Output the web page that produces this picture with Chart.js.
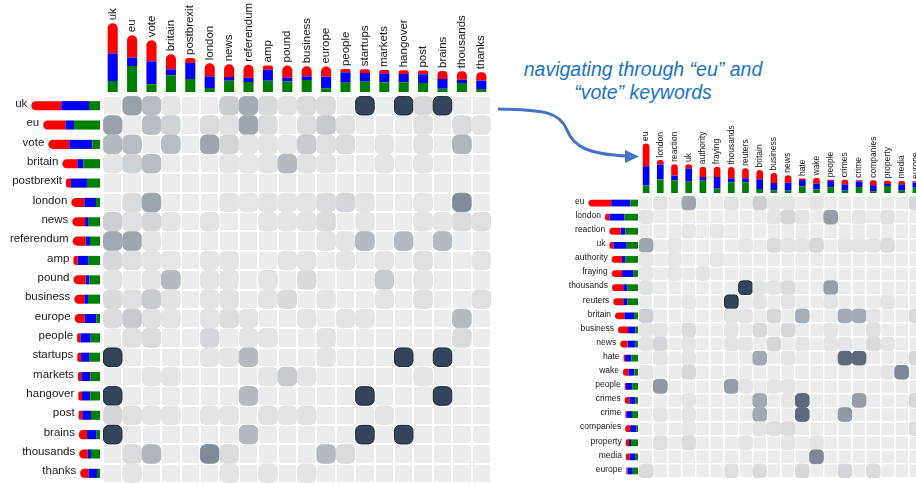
<!DOCTYPE html>
<html>
<head>
<meta charset="utf-8">
<script src="https://cdn.jsdelivr.net/npm/chart.js@4.4.0/dist/chart.umd.min.js"></script>
<style>
  html, body { margin: 0; padding: 0; background: #fff; width: 916px; height: 483px; overflow: hidden; }
  canvas, svg { position: absolute; }
  #note { position: absolute; left: 493px; top: 58px; width: 300px; text-align: center;
          font: italic 19.5px "Liberation Sans", Arial, sans-serif; color: #1a73c8; line-height: 23px; }
</style>
</head>
<body>
<svg width="916" height="483" style="left:0;top:0">
  <path d="M498,109 C545,110 560,112 567,130 C574,148 590,154 627,156" fill="none" stroke="#4673c4" stroke-width="3"/>
  <polygon points="639,156.5 625,150 625,163" fill="#4673c4"/>
</svg>
<div id="note">navigating through “eu” and<br>“vote” keywords</div>

<canvas id="colA" width="388" height="92" style="left:103px;top:0px"></canvas>
<canvas id="rowA" width="100" height="387" style="left:0px;top:96px"></canvas>
<canvas id="cellA" width="388" height="387" style="left:103px;top:96px"></canvas>

<canvas id="colB" width="284" height="80" style="left:639px;top:113px"></canvas>
<canvas id="rowB" width="108" height="282" style="left:530px;top:196px"></canvas>
<canvas id="cellB" width="284" height="282" style="left:639px;top:196px"></canvas>

<script>
// ---- left matrix: all keywords ----
const wordsA = ['uk', 'eu', 'vote', 'britain', 'postbrexit', 'london', 'news', 'referendum', 'amp', 'pound',
                'business', 'europe', 'people', 'startups', 'markets', 'hangover', 'post', 'brains', 'thousands', 'thanks'];
const redA   = [30, 22.3, 21, 15, 5, 13, 12.7, 13, 4.3, 12, 10, 10, 3.3, 3.7, 3.3, 3.7, 3.7, 8, 8.5, 8.3];
const blueA  = [27.7, 8.5, 23, 6, 16, 11.7, 3.7, 4.3, 11, 4, 3.7, 11.7, 10.3, 8.7, 9, 8.3, 8.7, 9.7, 3.3, 8.5];
const greenA = [11, 26, 7.7, 16.7, 13, 4, 11.3, 10, 11.3, 10.5, 12, 3.7, 9.3, 10.3, 9.7, 9.7, 9, 3.3, 9, 3];
const cellsA = [
  [0, .45, .28, .04, 0, 0, .19, .39, .11, .06, .1, .1, 0, 1, 0, 1, .12, 1, 0, 0],
  [.45, 0, .28, .15, 0, .1, .07, .42, .1, 0, .09, .2, .07, 0, 0, 0, .07, 0, .1, .05],
  [.3, .28, 0, .28, 0, .42, .14, .04, .05, .03, .2, .07, .1, 0, .04, 0, .06, 0, .32, 0],
  [.04, .15, .28, 0, 0, 0, .04, .03, .05, .3, .06, .05, 0, 0, .04, 0, .04, 0, 0, 0],
  [0, 0, 0, 0, 0, 0, 0, 0, 0, 0, 0, 0, 0, 0, 0, 0, 0, 0, 0, 0],
  [0, .1, .42, 0, 0, 0, .05, .03, .05, .05, .05, .1, .13, .05, 0, 0, .03, 0, .57, 0],
  [.18, .07, .13, .04, 0, .05, 0, 0, .04, .04, .06, .1, 0, .04, 0, 0, .05, .04, .1, .08],
  [.4, .42, .04, 0, 0, 0, 0, 0, 0, 0, 0, .05, .04, .3, 0, .3, 0, .3, 0, 0],
  [.12, .08, .05, .03, 0, .04, .04, 0, 0, .05, .05, 0, .04, 0, .04, 0, .07, 0, 0, .05],
  [.06, 0, .04, .3, 0, .04, .04, 0, .05, 0, .11, 0, 0, 0, .2, 0, .04, 0, 0, 0],
  [.11, .08, .2, .06, 0, .05, .06, 0, .05, .11, 0, .04, 0, 0, .05, 0, .07, 0, 0, .07],
  [.1, .2, .07, .05, 0, .05, .09, .05, 0, 0, .04, 0, .05, .04, 0, 0, 0, 0, .3, 0],
  [0, .07, .1, 0, 0, .13, 0, .04, .04, 0, 0, .05, 0, 0, 0, 0, 0, 0, .1, 0],
  [1, 0, 0, 0, 0, .04, .04, .3, 0, 0, 0, .04, 0, 0, 0, 1, 0, 1, 0, 0],
  [0, 0, .04, .04, 0, 0, 0, 0, .04, .2, .05, 0, 0, 0, 0, 0, .04, 0, 0, 0],
  [1, 0, 0, 0, 0, 0, 0, .3, 0, 0, 0, 0, 0, 1, 0, 0, 0, 1, 0, 0],
  [.13, .07, .05, .04, 0, .04, .05, 0, .06, .04, .06, 0, 0, 0, .04, 0, 0, 0, 0, 0],
  [1, 0, 0, 0, 0, 0, 0, .3, 0, 0, 0, 0, 0, 1, 0, 1, 0, 0, 0, 0],
  [0, .1, .32, 0, 0, .58, .1, 0, 0, 0, 0, .3, .1, 0, 0, 0, 0, 0, 0, 0],
  [0, .05, 0, 0, 0, 0, .04, 0, .05, 0, .05, 0, 0, 0, 0, 0, 0, 0, 0, 0]
];

// ---- right matrix: after navigating "eu" and "vote" ----
const wordsB = ['eu', 'london', 'reaction', 'uk', 'authority', 'fraying', 'thousands', 'reuters', 'britain', 'business',
                'news', 'hate', 'wake', 'people', 'crimes', 'crime', 'companies', 'property', 'media', 'europe'];
const redB   = [22.7, 4.5, 11.3, 4, 10.3, 10.3, 11.3, 10, 9.3, 10, 7.5, 1.5, 5.5, 1.2, 4.6, 1.2, 5, 3.3, 3.5, 1.2];
const blueB  = [19.3, 15, 4.7, 13.3, 3.7, 11.7, 4, 4, 9.7, 7.3, 8, 6.2, 6, 6.3, 6.3, 5.5, 6, 2, 6.3, 5.3];
const greenB = [7.5, 13.5, 12.7, 11.3, 12.3, 4.3, 10.7, 10.7, 4, 2.7, 2.3, 6.7, 3.5, 5.8, 2.3, 6, 1.8, 7, 2.3, 5.2];
const cellsB = [
  [0, .05, 0, .42, 0, 0, .06, 0, .18, .04, .05, 0, .04, 0, 0, 0, 0, 0, 0, .12],
  [.05, 0, 0, 0, 0, 0, 0, 0, 0, .04, .13, .05, 0, .47, 0, .04, 0, .06, 0, 0],
  [0, 0, 0, .03, 0, .03, 0, 0, 0, 0, 0, 0, 0, 0, 0, 0, 0, 0, 0, 0],
  [.42, 0, .03, 0, 0, 0, 0, .03, 0, .1, .05, .04, .12, 0, .04, .04, .04, .1, 0, 0],
  [.03, 0, .03, 0, 0, .03, 0, 0, 0, 0, 0, 0, 0, 0, 0, 0, 0, 0, 0, 0],
  [.03, 0, .03, 0, .04, 0, 0, 0, 0, 0, 0, 0, 0, 0, 0, 0, 0, 0, 0, 0],
  [.06, 0, 0, 0, 0, 0, 0, 1, .05, .04, .1, 0, 0, .46, 0, 0, 0, 0, 0, 0],
  [0, 0, 0, .03, 0, 0, 1, 0, .04, 0, .05, 0, 0, .04, 0, 0, 0, .04, 0, 0],
  [.18, 0, 0, 0, 0, 0, .05, .04, 0, .12, 0, .37, 0, 0, .39, .39, .04, 0, 0, .1],
  [.04, .04, 0, .1, 0, 0, .04, 0, .12, 0, .12, 0, 0, .04, 0, 0, .08, 0, 0, 0],
  [.05, .13, 0, .04, 0, 0, .05, .04, 0, .13, 0, .04, 0, .04, .04, 0, .11, .04, 0, 0],
  [0, .04, 0, .04, 0, 0, 0, 0, .4, 0, .04, 0, 0, 0, .78, .78, 0, 0, 0, .12],
  [.04, 0, 0, .12, 0, 0, 0, 0, 0, 0, 0, 0, 0, 0, 0, 0, 0, .04, .6, 0],
  [0, .5, 0, 0, 0, 0, .47, .04, 0, .04, .04, 0, 0, 0, 0, 0, 0, 0, 0, 0],
  [0, 0, 0, .04, 0, 0, 0, 0, .4, 0, .04, .78, 0, 0, 0, .47, 0, 0, 0, .12],
  [0, .04, 0, .04, 0, 0, 0, 0, .4, 0, 0, .78, 0, 0, .5, 0, 0, 0, 0, 0],
  [0, 0, 0, .03, 0, 0, 0, 0, .04, .08, .1, 0, 0, 0, 0, 0, 0, 0, 0, .08],
  [0, .07, 0, .1, 0, 0, 0, .04, 0, 0, .04, 0, .04, 0, 0, 0, 0, 0, 0, 0],
  [0, 0, 0, 0, 0, 0, 0, 0, 0, 0, 0, 0, .6, 0, 0, 0, 0, 0, 0, 0],
  [.11, 0, 0, 0, 0, 0, .08, 0, .1, 0, 0, .12, 0, 0, .14, 0, .1, 0, 0, 0]
];

const FONT = '"Liberation Sans", Arial, Helvetica, sans-serif';
Chart.defaults.font.family = FONT;

function shade(v) {
  const lo = [236, 236, 236], hi = [52, 68, 90];
  return 'rgb(' + lo.map((c, k) => Math.round(c + (hi[k] - c) * v)).join(',') + ')';
}

function stackSets(red, blue, green, horizontal, r) {
  const cap = horizontal
    ? { topLeft: r, bottomLeft: r, topRight: 0, bottomRight: 0 }
    : { topLeft: r, topRight: r, bottomLeft: 0, bottomRight: 0 };
  return [
    { data: green, backgroundColor: '#008000' },
    { data: blue, backgroundColor: '#0000ff' },
    { data: red, backgroundColor: '#ff0000', borderRadius: cap }
  ];
}

const quiet = {
  responsive: false, animation: false, events: [],
  layout: { padding: 0, autoPadding: false },
  plugins: { legend: { display: false }, tooltip: { enabled: false } }
};

function columnBars(id, words, red, blue, green, max, fontSize, bw, r, gap) {
  new Chart(document.getElementById(id), {
    type: 'bar',
    data: { labels: words, datasets: stackSets(red, blue, green, false, r) },
    options: Object.assign({}, quiet, {
      datasets: { bar: { barPercentage: bw, categoryPercentage: 1, borderWidth: 0 } },
      scales: {
        x: { display: false, stacked: true },
        y: { display: false, stacked: true, min: 0, max: max }
      }
    }),
    plugins: [{
      id: 'colLabels',
      afterDatasetsDraw(chart) {
        const ctx = chart.ctx, xs = chart.scales.x, ys = chart.scales.y;
        ctx.save();
        ctx.font = fontSize + 'px ' + FONT;
        ctx.fillStyle = '#1a1a1a';
        ctx.textAlign = 'left';
        ctx.textBaseline = 'middle';
        words.forEach((w, i) => {
          const top = ys.getPixelForValue(red[i] + blue[i] + green[i]);
          ctx.save();
          ctx.translate(xs.getPixelForValue(i), top - gap);
          ctx.rotate(-Math.PI / 2);
          ctx.fillText(w, 0, 0);
          ctx.restore();
        });
        ctx.restore();
      }
    }]
  });
}

function rowBars(id, words, red, blue, green, max, fontSize, bw, r, lift) {
  new Chart(document.getElementById(id), {
    type: 'bar',
    data: { labels: words, datasets: stackSets(red, blue, green, true, r) },
    options: Object.assign({}, quiet, {
      indexAxis: 'y',
      datasets: { bar: { barPercentage: bw, categoryPercentage: 1, borderWidth: 0 } },
      scales: {
        x: { display: false, stacked: true, min: 0, max: max, reverse: true },
        y: { display: false, stacked: true }
      }
    }),
    plugins: [{
      id: 'rowLabels',
      afterDatasetsDraw(chart) {
        const ctx = chart.ctx, xs = chart.scales.x, ys = chart.scales.y;
        ctx.save();
        ctx.font = fontSize + 'px ' + FONT;
        ctx.fillStyle = '#1a1a1a';
        ctx.textAlign = 'right';
        ctx.textBaseline = 'middle';
        words.forEach((w, i) => {
          const start = xs.getPixelForValue(red[i] + blue[i] + green[i]);
          ctx.fillText(w, start - 4, ys.getPixelForValue(i) - lift);
        });
        ctx.restore();
      }
    }]
  });
}

function cellMatrix(id, cells, radius, line) {
  const n = cells.length;
  const pts = [];
  cells.forEach((row, i) => row.forEach((v, j) => { if (v > 0) pts.push({ x: j, y: i, v: v }); }));
  const axis = (reverse) => ({
    type: 'linear', min: -0.5, max: n - 0.5, reverse: reverse,
    afterBuildTicks: s => { s.ticks = []; for (let k = 0; k <= n; k++) s.ticks.push({ value: k - 0.5 }); },
    ticks: { display: false },
    grid: { color: '#ffffff', lineWidth: line, drawTicks: false },
    border: { display: false }
  });
  new Chart(document.getElementById(id), {
    type: 'scatter',
    data: {
      datasets: [{
        data: pts,
        pointStyle: 'rectRounded',
        pointRadius: radius,
        backgroundColor: c => c.raw ? shade(c.raw.v) : '#ccc',
        borderColor: c => c.raw ? (c.raw.v > 0.9 ? '#1b2431' : shade(c.raw.v)) : '#ccc',
        borderWidth: 1
      }]
    },
    options: Object.assign({}, quiet, { scales: { x: axis(false), y: axis(true) } }),
    plugins: [{
      id: 'cellBg',
      beforeDraw(chart) {
        const a = chart.chartArea, ctx = chart.ctx;
        ctx.save();
        ctx.fillStyle = '#ececec';
        ctx.fillRect(a.left, a.top, a.right - a.left, a.bottom - a.top);
        ctx.restore();
      }
    }]
  });
}

columnBars('colA', wordsA, redA, blueA, greenA, 92, 11.5, 0.52, 5, 3);
rowBars('rowA', wordsA, redA, blueA, greenA, 100, 11.5, 0.47, 4.5, 2);
cellMatrix('cellA', cellsA, 10.8, 2);

columnBars('colB', wordsB, redB, blueB, greenB, 80, 8.5, 0.47, 3.4, 2.5);
rowBars('rowB', wordsB, redB, blueB, greenB, 108, 8.5, 0.48, 3.4, 1.5);
cellMatrix('cellB', cellsB, 7.9, 1.5);
</script>
</body>
</html>
